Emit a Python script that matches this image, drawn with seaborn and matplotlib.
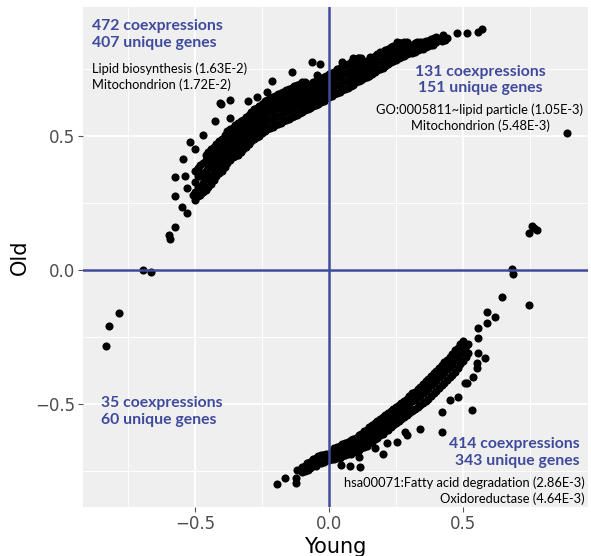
import matplotlib
matplotlib.use("Agg")
import matplotlib.pyplot as plt
import seaborn as sns
import pandas as pd
from matplotlib.ticker import FixedLocator

# ---------------- data ----------------
# dense upper band: (Young, [Old values])
upper_band = [
    (-0.50, [0.26, 0.29, 0.33, 0.37]),
    (-0.48, [0.28, 0.31, 0.35, 0.39]),
    (-0.46, [0.30, 0.34, 0.37, 0.41, 0.43]),
    (-0.44, [0.32, 0.35, 0.39, 0.42, 0.45]),
    (-0.42, [0.35, 0.38, 0.41, 0.44, 0.47]),
    (-0.40, [0.37, 0.40, 0.43, 0.46, 0.49]),
    (-0.38, [0.40, 0.43, 0.46, 0.49, 0.52]),
    (-0.36, [0.42, 0.45, 0.48, 0.51, 0.53]),
    (-0.34, [0.43, 0.46, 0.49, 0.52, 0.55]),
    (-0.32, [0.45, 0.48, 0.51, 0.54, 0.56]),
    (-0.30, [0.47, 0.50, 0.53, 0.56, 0.58]),
    (-0.28, [0.49, 0.52, 0.55, 0.57, 0.60]),
    (-0.26, [0.50, 0.53, 0.56, 0.59, 0.61]),
    (-0.24, [0.52, 0.55, 0.58, 0.60, 0.63]),
    (-0.22, [0.53, 0.56, 0.59, 0.62, 0.64]),
    (-0.20, [0.54, 0.57, 0.60, 0.63, 0.65]),
    (-0.18, [0.55, 0.58, 0.61, 0.64, 0.66]),
    (-0.16, [0.56, 0.59, 0.62, 0.65, 0.67]),
    (-0.14, [0.57, 0.60, 0.63, 0.66, 0.68]),
    (-0.12, [0.58, 0.61, 0.64, 0.67, 0.69]),
    (-0.10, [0.59, 0.62, 0.65, 0.68, 0.70]),
    (-0.08, [0.60, 0.63, 0.66, 0.69]),
    (-0.06, [0.61, 0.64, 0.67, 0.70]),
    (-0.04, [0.62, 0.65, 0.68, 0.71]),
    (-0.02, [0.63, 0.66, 0.69, 0.72]),
    (0.00, [0.645, 0.675, 0.70, 0.73]),
    (0.02, [0.655, 0.685, 0.715, 0.74]),
    (0.04, [0.665, 0.695, 0.725, 0.755]),
    (0.06, [0.675, 0.705, 0.735, 0.765]),
    (0.08, [0.685, 0.715, 0.745, 0.775]),
    (0.10, [0.70, 0.73, 0.76, 0.785]),
    (0.12, [0.71, 0.74, 0.77, 0.79]),
    (0.14, [0.72, 0.75, 0.78]),
    (0.16, [0.73, 0.76, 0.79]),
    (0.18, [0.745, 0.775, 0.805]),
    (0.20, [0.755, 0.785, 0.815]),
    (0.22, [0.77, 0.80, 0.825]),
    (0.24, [0.78, 0.81, 0.835]),
    (0.26, [0.79, 0.82, 0.845]),
    (0.28, [0.80, 0.825, 0.85]),
    (0.30, [0.81, 0.835]),
    (0.32, [0.815, 0.845]),
    (0.34, [0.825, 0.85]),
    (0.36, [0.83, 0.855]),
    (0.38, [0.84, 0.86]),
    (0.40, [0.85, 0.87]),
    (0.42, [0.855]),
    (0.44, [0.865]),
]

# staggered points filling the upper band between the columns above
upper_band_fill = [
    (-0.49, [0.275, 0.31, 0.35, 0.38]),
    (-0.47, [0.29, 0.325, 0.36, 0.40]),
    (-0.45, [0.31, 0.345, 0.38, 0.415, 0.44]),
    (-0.43, [0.335, 0.365, 0.40, 0.43, 0.46]),
    (-0.41, [0.36, 0.39, 0.42, 0.455, 0.48]),
    (-0.39, [0.385, 0.415, 0.445, 0.475, 0.505]),
    (-0.37, [0.41, 0.44, 0.47, 0.50, 0.525]),
    (-0.35, [0.425, 0.455, 0.485, 0.515, 0.54]),
    (-0.33, [0.44, 0.47, 0.50, 0.53, 0.555]),
    (-0.31, [0.46, 0.49, 0.52, 0.55, 0.57]),
    (-0.29, [0.48, 0.51, 0.54, 0.565, 0.59]),
    (-0.27, [0.495, 0.525, 0.555, 0.58, 0.605]),
    (-0.25, [0.51, 0.54, 0.57, 0.595, 0.62]),
    (-0.23, [0.525, 0.555, 0.585, 0.61, 0.635]),
    (-0.21, [0.535, 0.565, 0.595, 0.625, 0.645]),
    (-0.19, [0.545, 0.575, 0.605, 0.635, 0.655]),
    (-0.17, [0.555, 0.585, 0.615, 0.645, 0.665]),
    (-0.15, [0.565, 0.595, 0.625, 0.655, 0.675]),
    (-0.13, [0.575, 0.605, 0.635, 0.665, 0.685]),
    (-0.11, [0.585, 0.615, 0.645, 0.675, 0.695]),
    (-0.09, [0.595, 0.625, 0.655, 0.685, 0.70]),
    (-0.07, [0.605, 0.635, 0.665, 0.695]),
    (-0.05, [0.615, 0.645, 0.675, 0.705]),
    (-0.03, [0.625, 0.655, 0.685, 0.715]),
    (-0.01, [0.64, 0.67, 0.695, 0.725]),
    (0.01, [0.65, 0.68, 0.71, 0.735]),
    (0.03, [0.66, 0.69, 0.72, 0.75]),
    (0.05, [0.67, 0.70, 0.73, 0.76]),
    (0.07, [0.68, 0.71, 0.74, 0.77]),
    (0.09, [0.69, 0.72, 0.75, 0.78]),
    (0.11, [0.705, 0.735, 0.765, 0.79]),
    (0.13, [0.715, 0.745, 0.775]),
    (0.15, [0.725, 0.755, 0.785]),
    (0.17, [0.74, 0.77, 0.80]),
    (0.19, [0.75, 0.78, 0.81]),
    (0.21, [0.76, 0.79, 0.82]),
    (0.23, [0.775, 0.805, 0.83]),
    (0.25, [0.785, 0.815, 0.84]),
    (0.27, [0.795, 0.82, 0.845]),
    (0.29, [0.805, 0.83, 0.85]),
    (0.31, [0.81, 0.84]),
    (0.33, [0.82, 0.845]),
    (0.35, [0.825, 0.85]),
    (0.37, [0.835, 0.855]),
    (0.39, [0.845, 0.865]),
]

# dense lower band: (Young, [Old values])
lower_band = [
    (-0.10, [-0.755, -0.735]),
    (-0.08, [-0.745, -0.72]),
    (-0.06, [-0.73, -0.705]),
    (-0.04, [-0.72, -0.695]),
    (-0.02, [-0.715, -0.69]),
    (0.00, [-0.71, -0.685]),
    (0.02, [-0.705, -0.68, -0.665]),
    (0.04, [-0.70, -0.675, -0.655]),
    (0.06, [-0.69, -0.665, -0.645]),
    (0.08, [-0.685, -0.66, -0.635]),
    (0.10, [-0.675, -0.65, -0.625]),
    (0.12, [-0.665, -0.64, -0.61]),
    (0.14, [-0.655, -0.625, -0.595]),
    (0.16, [-0.64, -0.61, -0.58]),
    (0.18, [-0.625, -0.595, -0.565]),
    (0.20, [-0.61, -0.58, -0.55]),
    (0.22, [-0.595, -0.565, -0.535]),
    (0.24, [-0.58, -0.55, -0.52]),
    (0.26, [-0.565, -0.535, -0.505]),
    (0.28, [-0.55, -0.52, -0.49]),
    (0.30, [-0.535, -0.50, -0.47]),
    (0.32, [-0.52, -0.485, -0.455]),
    (0.34, [-0.505, -0.47, -0.435]),
    (0.36, [-0.49, -0.45, -0.415]),
    (0.38, [-0.47, -0.43, -0.395]),
    (0.40, [-0.45, -0.41, -0.375]),
    (0.42, [-0.43, -0.39, -0.355]),
    (0.44, [-0.41, -0.37, -0.335]),
    (0.46, [-0.39, -0.35, -0.315]),
    (0.48, [-0.365, -0.325, -0.29]),
    (0.50, [-0.34, -0.30, -0.265]),
    (0.52, [-0.31, -0.275]),
]

# staggered points filling the lower band
lower_band_fill = [
    (-0.09, [-0.75, -0.73]),
    (-0.07, [-0.74, -0.715]),
    (-0.05, [-0.73, -0.70]),
    (-0.03, [-0.72, -0.69]),
    (-0.01, [-0.71, -0.685]),
    (0.01, [-0.705, -0.68]),
    (0.03, [-0.70, -0.675, -0.66]),
    (0.05, [-0.695, -0.67, -0.65]),
    (0.07, [-0.685, -0.66, -0.64]),
    (0.09, [-0.68, -0.655, -0.63]),
    (0.11, [-0.67, -0.645, -0.615]),
    (0.13, [-0.66, -0.63, -0.60]),
    (0.15, [-0.645, -0.615, -0.585]),
    (0.17, [-0.63, -0.60, -0.57]),
    (0.19, [-0.615, -0.585, -0.555]),
    (0.21, [-0.60, -0.57, -0.54]),
    (0.23, [-0.585, -0.555, -0.525]),
    (0.25, [-0.57, -0.54, -0.51]),
    (0.27, [-0.555, -0.525, -0.495]),
    (0.29, [-0.54, -0.51, -0.48]),
    (0.31, [-0.525, -0.49, -0.46]),
    (0.33, [-0.51, -0.475, -0.445]),
    (0.35, [-0.495, -0.46, -0.425]),
    (0.37, [-0.48, -0.44, -0.405]),
    (0.39, [-0.46, -0.42, -0.385]),
    (0.41, [-0.44, -0.40, -0.365]),
    (0.43, [-0.42, -0.38, -0.345]),
    (0.45, [-0.40, -0.36, -0.325]),
    (0.47, [-0.38, -0.335, -0.30]),
    (0.49, [-0.35, -0.31, -0.275]),
    (0.51, [-0.325, -0.285]),
]

# isolated points around the bands
scattered_points = [
    # upper-left tail and points above the upper band
    (-0.403, 0.619), (-0.369, 0.567), (-0.425, 0.556), (-0.470, 0.504),
    (-0.519, 0.478), (-0.500, 0.451), (-0.545, 0.414), (-0.575, 0.347),
    (-0.537, 0.351), (-0.575, 0.276), (-0.530, 0.306), (-0.507, 0.280),
    (-0.549, 0.235), (-0.530, 0.213), (-0.575, 0.160), (-0.597, 0.131),
    (-0.593, 0.116), (-0.407, 0.623), (-0.369, 0.634), (-0.302, 0.631),
    (-0.269, 0.646), (-0.231, 0.664), (-0.213, 0.705), (-0.138, 0.739),
    (-0.063, 0.776), (-0.034, 0.769), (-0.045, 0.728), (0.090, 0.791),
    (0.049, 0.776), (0.108, 0.791), (0.153, 0.795), (0.190, 0.813),
    # upper-right end
    (0.254, 0.851), (0.265, 0.847), (0.328, 0.851), (0.351, 0.847),
    (0.388, 0.840), (0.425, 0.877), (0.433, 0.858), (0.478, 0.884),
    (0.515, 0.884), (0.556, 0.888), (0.571, 0.899), (0.888, 0.511),
    # right cluster
    (0.757, 0.164), (0.776, 0.149), (0.746, 0.138), (0.765, 0.157),
    (0.687, -0.015), (0.683, 0.004),
    # left cluster
    (-0.694, 0.000), (-0.664, -0.007), (-0.784, -0.160), (-0.821, -0.209),
    (-0.832, -0.284),
    # lower band edges and outliers
    (-0.194, -0.799), (-0.164, -0.776), (-0.123, -0.776), (-0.123, -0.795),
    (-0.119, -0.746), (-0.097, -0.739), (-0.082, -0.720), (-0.060, -0.709),
    (-0.022, -0.690), (0.045, -0.728), (0.078, -0.731), (0.116, -0.735),
    (0.112, -0.698), (0.172, -0.664), (0.201, -0.687), (0.216, -0.646),
    (0.254, -0.642), (0.291, -0.616), (0.284, -0.604), (0.340, -0.593),
    (0.422, -0.604), (0.422, -0.530), (0.534, -0.522), (0.507, -0.422),
    (0.556, -0.310), (0.582, -0.328), (0.552, -0.347), (0.552, -0.366),
    (0.537, -0.399), (0.515, -0.422), (0.481, -0.474), (0.451, -0.485),
    (0.556, -0.254), (0.556, -0.216), (0.590, -0.198), (0.619, -0.175),
    (0.590, -0.157), (0.646, -0.101), (0.746, -0.131),
]

x_ticks = [-0.5, 0.0, 0.5]
y_ticks = [-0.5, 0.0, 0.5]
x_tick_labels = ["\u22120.5", "0.0", "0.5"]
y_tick_labels = ["\u22120.5", "0.0", "0.5"]

quadrant_blue = [
    ("472 coexpressions\n407 unique genes", -0.884, 0.878, "left"),
    ("131 coexpressions\n151 unique genes", 0.563, 0.709, "center"),
    ("35 coexpressions\n60 unique genes", -0.851, -0.527, "left"),
    ("414 coexpressions\n343 unique genes", 0.935, -0.681, "right"),
]
quadrant_black = [
    ("Lipid biosynthesis (1.63E-2)\nMitochondrion (1.72E-2)", -0.884, 0.722, "left"),
    ("GO:0005811~lipid particle (1.05E-3)\nMitochondrion (5.48E-3)", 0.563, 0.567, "center"),
    ("hsa00071:Fatty acid degradation (2.86E-3)\nOxidoreductase (4.64E-3)", 0.955, -0.822, "right"),
]

# ---------------- build table ----------------
rows = []
for group in (upper_band, upper_band_fill, lower_band, lower_band_fill):
    for xv, ys in group:
        for yv in ys:
            rows.append((xv, yv))
rows.extend(scattered_points)
df = pd.DataFrame(rows, columns=["Young", "Old"])

# ---------------- plot ----------------
sns.set_theme(style="darkgrid")
plt.rcParams["font.family"] = ["DejaVu Sans"]

fig = plt.figure(figsize=(5.91, 5.56), dpi=100)
ax = fig.add_axes([83 / 591, 49 / 556, 505 / 591, 500 / 556])
ax.set_facecolor("#EFEFEF")

sns.scatterplot(data=df, x="Young", y="Old", ax=ax, color="black",
                s=34, linewidth=0, zorder=3, legend=False)

line_color = "#3E4A9B"
ax.axvline(0, color=line_color, lw=1.8, zorder=4)
ax.axhline(0, color=line_color, lw=1.8, zorder=4)

ax.set_xlim(-0.918, 0.966)
ax.set_ylim(-0.884, 0.981)
ax.xaxis.set_major_locator(FixedLocator(x_ticks))
ax.yaxis.set_major_locator(FixedLocator(y_ticks))
ax.set_xticklabels(x_tick_labels)
ax.set_yticklabels(y_tick_labels)
ax.xaxis.set_minor_locator(FixedLocator([-0.75, -0.25, 0.25, 0.75]))
ax.yaxis.set_minor_locator(FixedLocator([-0.75, -0.25, 0.25, 0.75]))
ax.grid(which="major", color="white", lw=1.3)
ax.grid(which="minor", color="white", lw=0.7)
ax.set_axisbelow(True)
for sp in ax.spines.values():
    sp.set_visible(False)
ax.tick_params(axis="both", which="major", length=3.5, width=0.8,
               color="#555555", labelcolor="#4D4D4D", labelsize=12, pad=2,
               bottom=True, left=True)
ax.tick_params(which="minor", length=0)

ax.set_xlabel("Young", fontsize=15, color="black")
ax.set_ylabel("Old", fontsize=15, color="black")
ax.xaxis.set_label_coords(0.5, -0.06)
ax.yaxis.set_label_coords(-0.105, 0.5)

for txt, xv, yv, ha in quadrant_blue:
    ax.text(xv, yv, txt, ha=ha, va="center", fontsize=11.3, fontweight="bold",
            color="#3F4A9C", family=["Lato", "DejaVu Sans"], linespacing=1.25,
            zorder=5)
for txt, xv, yv, ha in quadrant_black:
    ax.text(xv, yv, txt, ha=ha, va="center", fontsize=9.3, color="black",
            family=["Lato", "DejaVu Sans"], linespacing=1.3, zorder=5)

fig.savefig("out.png", dpi=100)
